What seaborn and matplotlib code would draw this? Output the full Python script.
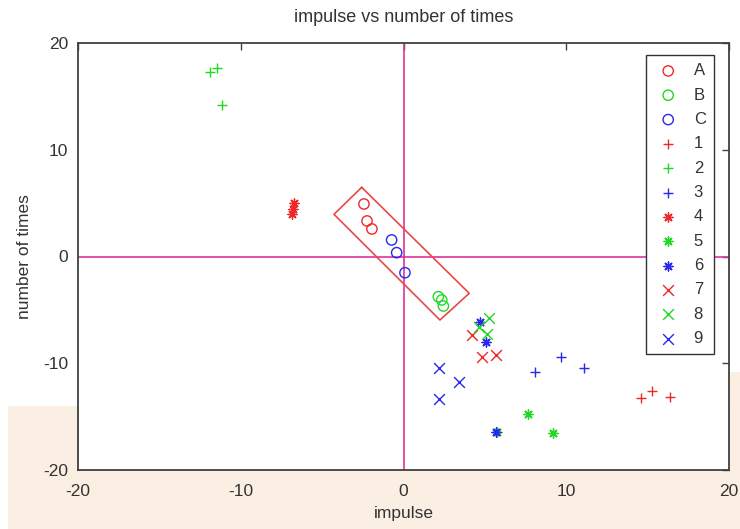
import matplotlib
matplotlib.use("Agg")
import matplotlib.pyplot as plt
import seaborn as sns
import pandas as pd
from matplotlib.patches import Rectangle

# ---- data ----
groups = ["A", "B", "C", "1", "2", "3", "4", "5", "6", "7", "8", "9"]
A_x = [-2.43, -2.24, -1.94]; A_y = [4.92, 3.33, 2.58]
B_x = [2.14, 2.35, 2.45];    B_y = [-3.77, -4.07, -4.64]
C_x = [-0.73, -0.42, 0.09];  C_y = [1.55, 0.36, -1.52]
g1_x = [14.57, 15.29, 16.38]; g1_y = [-13.28, -12.60, -13.19]
g2_x = [-11.89, -11.44, -11.17]; g2_y = [17.31, 17.63, 14.19]
g3_x = [8.08, 9.70, 11.07]; g3_y = [-10.85, -9.39, -10.45]
g4_x = [-6.75, -6.80, -6.85]; g4_y = [5.00, 4.45, 3.95]
g5_x = [7.63, 9.20, 5.73]; g5_y = [-14.78, -16.56, -16.41]
g6_x = [4.70, 5.05, 5.68]; g6_y = [-6.11, -7.98, -16.44]
g7_x = [4.23, 4.84, 5.68]; g7_y = [-7.35, -9.39, -9.23]
g8_x = [5.27, 4.64, 5.11]; g8_y = [-5.79, -6.58, -7.29]
g9_x = [2.18, 3.41, 2.18]; g9_y = [-10.47, -11.73, -13.38]

xs = [A_x, B_x, C_x, g1_x, g2_x, g3_x, g4_x, g5_x, g6_x, g7_x, g8_x, g9_x]
ys = [A_y, B_y, C_y, g1_y, g2_y, g3_y, g4_y, g5_y, g6_y, g7_y, g8_y, g9_y]

# highlighted box corners (data coords)
box_x = [-2.57, -4.27, 2.24, 4.04, -2.57]
box_y = [6.48, 3.95, -5.95, -3.45, 6.48]

rows = []
for g, gx, gy in zip(groups, xs, ys):
    for a, b in zip(gx, gy):
        rows.append({"impulse": a, "times": b, "group": g})
df = pd.DataFrame(rows)

# ---- styles ----
RED, GREEN, BLUE = "#EE2828", "#22D822", "#2828EE"
col_cycle = [RED, GREEN, BLUE]
style = {}
for i, g in enumerate(groups):
    c = col_cycle[i % 3]
    if i < 3:
        m, s = "o", 55
    elif i < 6:
        m, s = "+", 60
    elif i < 9:
        m, s = (8, 2, 0), 42
    else:
        m, s = "x", 60
    style[g] = (c, m, s)

sns.set_style("white")
plt.rcParams["font.family"] = ["Liberation Sans", "DejaVu Sans"]
plt.rcParams["axes.unicode_minus"] = False

fig = plt.figure(figsize=(7.4, 5.29), dpi=100)
fig.patch.set_facecolor("white")
bg = Rectangle((8 / 740, 0), 1, (529 - 406) / 529,
               transform=fig.transFigure, facecolor="#FBEEE2",
               edgecolor="none", zorder=-10)
fig.add_artist(bg)
bg2 = Rectangle((730 / 740, (529 - 406) / 529), 1, 34 / 529,
                transform=fig.transFigure, facecolor="#FBEEE2",
                edgecolor="none", zorder=-10)
fig.add_artist(bg2)

ax = fig.add_axes([78 / 740, (529 - 470) / 529, (729 - 78) / 740, (470 - 43) / 529])
ax.set_zorder(1)
ax.set_facecolor("white")

ax.axhline(0, color="#DD3399", lw=1.2, zorder=1)
ax.axvline(0, color="#DD3399", lw=1.2, zorder=1)
ax.plot(box_x, box_y, color="#E84848", lw=1.2, zorder=2)

for g in groups:
    c, m, s = style[g]
    sub = df[df["group"] == g]
    if m == "o":
        sns.scatterplot(data=sub, x="impulse", y="times", ax=ax, marker="o",
                        s=s, facecolor="none", edgecolor=c, color=c,
                        linewidth=1.0, label=g, legend=False, zorder=3)
    else:
        sns.scatterplot(data=sub, x="impulse", y="times", ax=ax, marker=m,
                        s=s, color=c, linewidth=1.0, label=g, legend=False,
                        zorder=3)

ax.set_xlim(-20, 20)
ax.set_ylim(-20, 20)
ax.set_xticks([-20, -10, 0, 10, 20])
ax.set_yticks([-20, -10, 0, 10, 20])
ax.tick_params(direction="in", top=True, right=True, length=5, width=1.0,
               color="#404040", labelsize=12.5, labelcolor="#333333", pad=7)
ax.tick_params(axis="x", pad=10)
for sp in ax.spines.values():
    sp.set_color("#404040")
    sp.set_linewidth(1.3)

ax.set_title("impulse vs number of times", fontsize=13, color="#333333", pad=15)
ax.set_xlabel("impulse", fontsize=12.5, color="#333333", labelpad=5)
ax.set_ylabel("number of times", fontsize=12.5, color="#333333", labelpad=8)

leg = ax.legend(loc="upper right", bbox_to_anchor=(0.977, 0.972),
                borderaxespad=0, fontsize=12, scatterpoints=1,
                labelspacing=0.56, handlelength=1.66, handletextpad=0.7,
                borderpad=0.5, fancybox=False, framealpha=1)
leg.get_frame().set_edgecolor("#333333")
leg.get_frame().set_linewidth(1.0)
for t in leg.get_texts():
    t.set_color("#333333")

fig.savefig("out.png", dpi=100, facecolor=fig.get_facecolor())
